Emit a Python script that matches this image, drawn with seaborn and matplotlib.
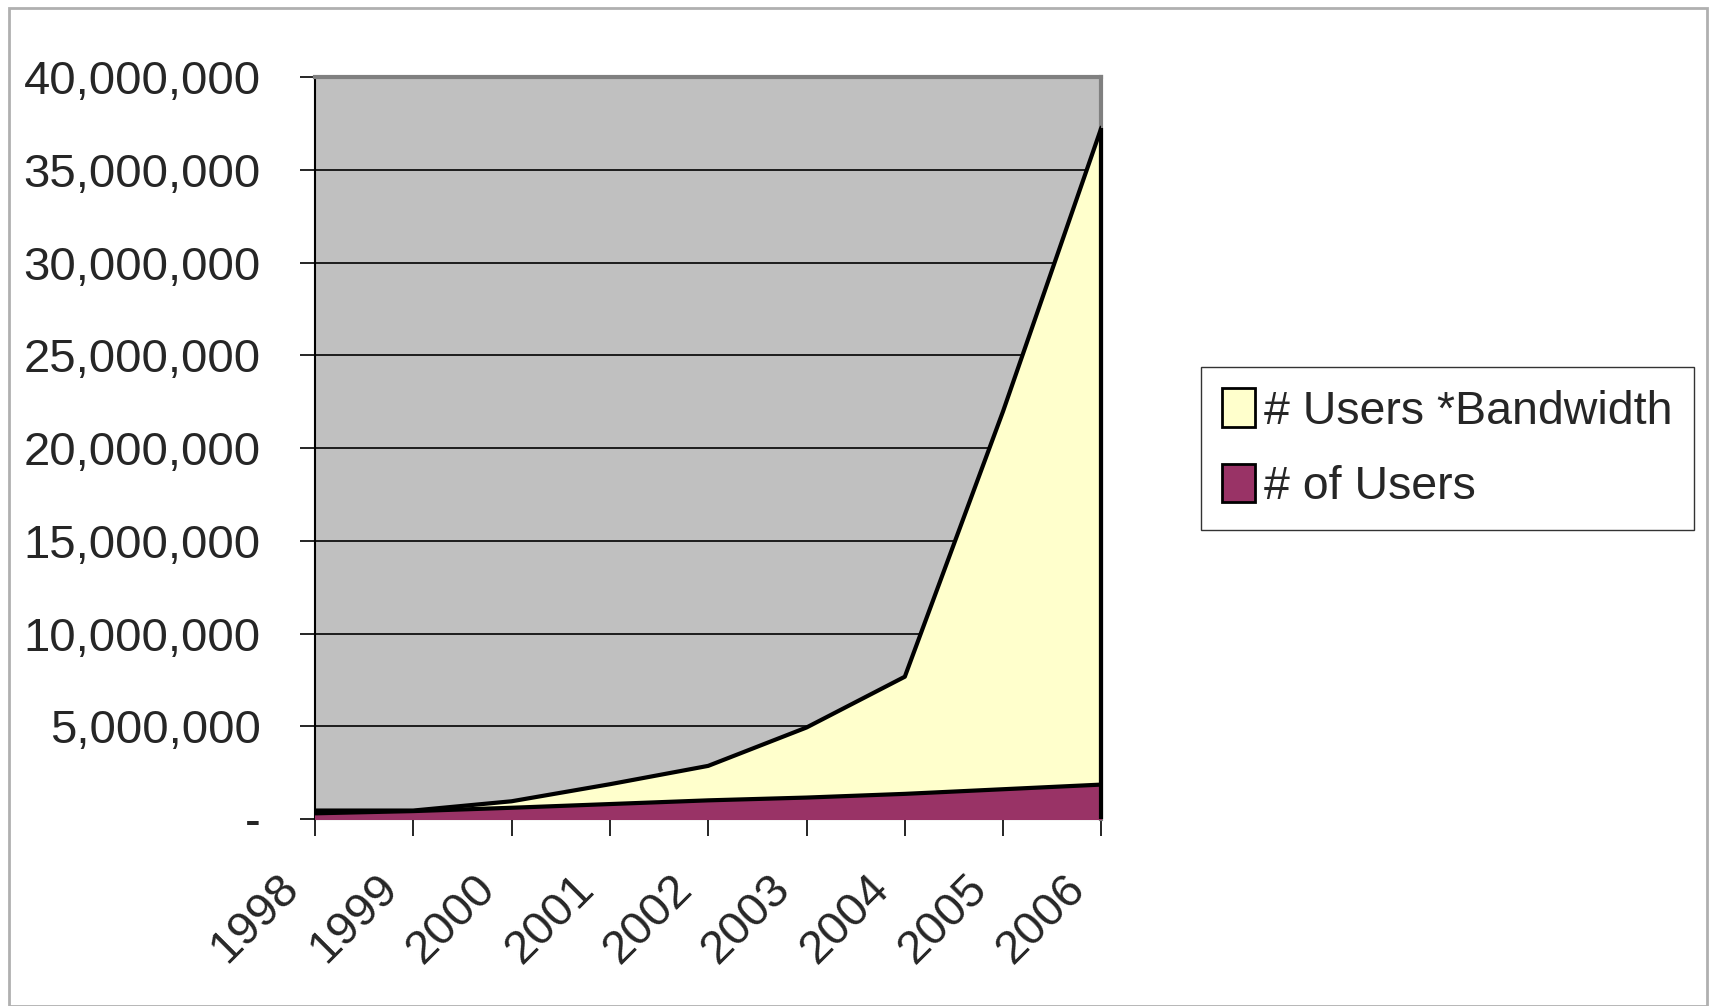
import seaborn as sns
import matplotlib.pyplot as plt
import matplotlib.transforms as mtransforms
import pandas as pd
from matplotlib.patches import Patch, Rectangle
from matplotlib.ticker import FuncFormatter

years = ["1998", "1999", "2000", "2001", "2002", "2003", "2004", "2005", "2006"]
users_bandwidth = [450000, 450000, 950000, 1870000, 2860000, 4930000, 7670000, 22000000, 37300000]
num_users = [300000, 420000, 600000, 800000, 1000000, 1150000, 1350000, 1600000, 1850000]

df = pd.DataFrame({"year": years, "pos": range(len(years)),
                   "bw": users_bandwidth, "users": num_users})

sns.set_style("white")
plt.rcParams["font.family"] = ["Liberation Sans", "DejaVu Sans"]

fig = plt.figure(figsize=(17.21, 10.06), dpi=100)
ax = fig.add_axes([0.183, 0.186, 0.457, 0.737])
ax.set_facecolor("#C0C0C0")

# areas overlap (not stacked), yellow first then maroon
ax.fill_between(df["pos"], df["bw"], color="#FFFFCC", zorder=2)
sns.lineplot(data=df, x="pos", y="bw", color="black", linewidth=3, ax=ax, zorder=3)
ax.fill_between(df["pos"], df["users"], color="#993366", zorder=4)
sns.lineplot(data=df, x="pos", y="users", color="black", linewidth=3, ax=ax, zorder=5)
# black outline on the right edge of the areas
last = df.iloc[-1]
ax.vlines(last["pos"], 0, last["bw"], color="black", linewidth=3, zorder=6, clip_on=False)

ax.set_xlim(0, len(years) - 1)
ax.set_ylim(0, 40000000)
ax.set_yticks(range(0, 40000001, 5000000))
ax.yaxis.set_major_formatter(FuncFormatter(lambda v, p: "-" if v == 0 else f"{int(v):,}"))
ax.grid(axis="y", color="black", linewidth=1.2, zorder=1)
ax.set_axisbelow(True)

ax.set_xticks(df["pos"])
ax.set_xticklabels(years, rotation=45, ha="right", va="top", rotation_mode="anchor")
ax.tick_params(axis="y", length=11, width=1.2, color="black", labelsize=34, pad=28, left=True)
ax.tick_params(axis="x", length=12, width=1.2, color="black", labelsize=34, pad=22, bottom=True)
shift = mtransforms.ScaledTranslation(-0.38, 0, fig.dpi_scale_trans)
for lab in ax.get_xticklabels():
    lab.set_transform(lab.get_transform() + shift)
ax.set_xlabel("")
ax.set_ylabel("")

for side in ["left", "bottom"]:
    ax.spines[side].set_color("black")
    ax.spines[side].set_linewidth(1.5)
for side in ["top", "right"]:
    ax.spines[side].set_color("#808080")
    ax.spines[side].set_linewidth(3)
    ax.spines[side].set_visible(True)

handles = [Patch(facecolor="#FFFFCC", edgecolor="black", linewidth=2, label="# Users *Bandwidth"),
           Patch(facecolor="#993366", edgecolor="black", linewidth=2, label="# of Users")]
leg = fig.legend(handles=handles, loc="center left", bbox_to_anchor=(0.698, 0.554),
                 fontsize=33.5, frameon=True, fancybox=False, edgecolor="black",
                 handlelength=0.7, handleheight=0.9, handletextpad=0.2,
                 labelspacing=0.65, borderpad=0.45, borderaxespad=0)
leg.get_frame().set_linewidth(1)

# outer frame of the chart
fig.patches.append(Rectangle((0.005, 0.0), 0.987, 0.992, transform=fig.transFigure,
                             fill=False, edgecolor="#B0B0B0", linewidth=2))

fig.savefig("out.png", dpi=100)
